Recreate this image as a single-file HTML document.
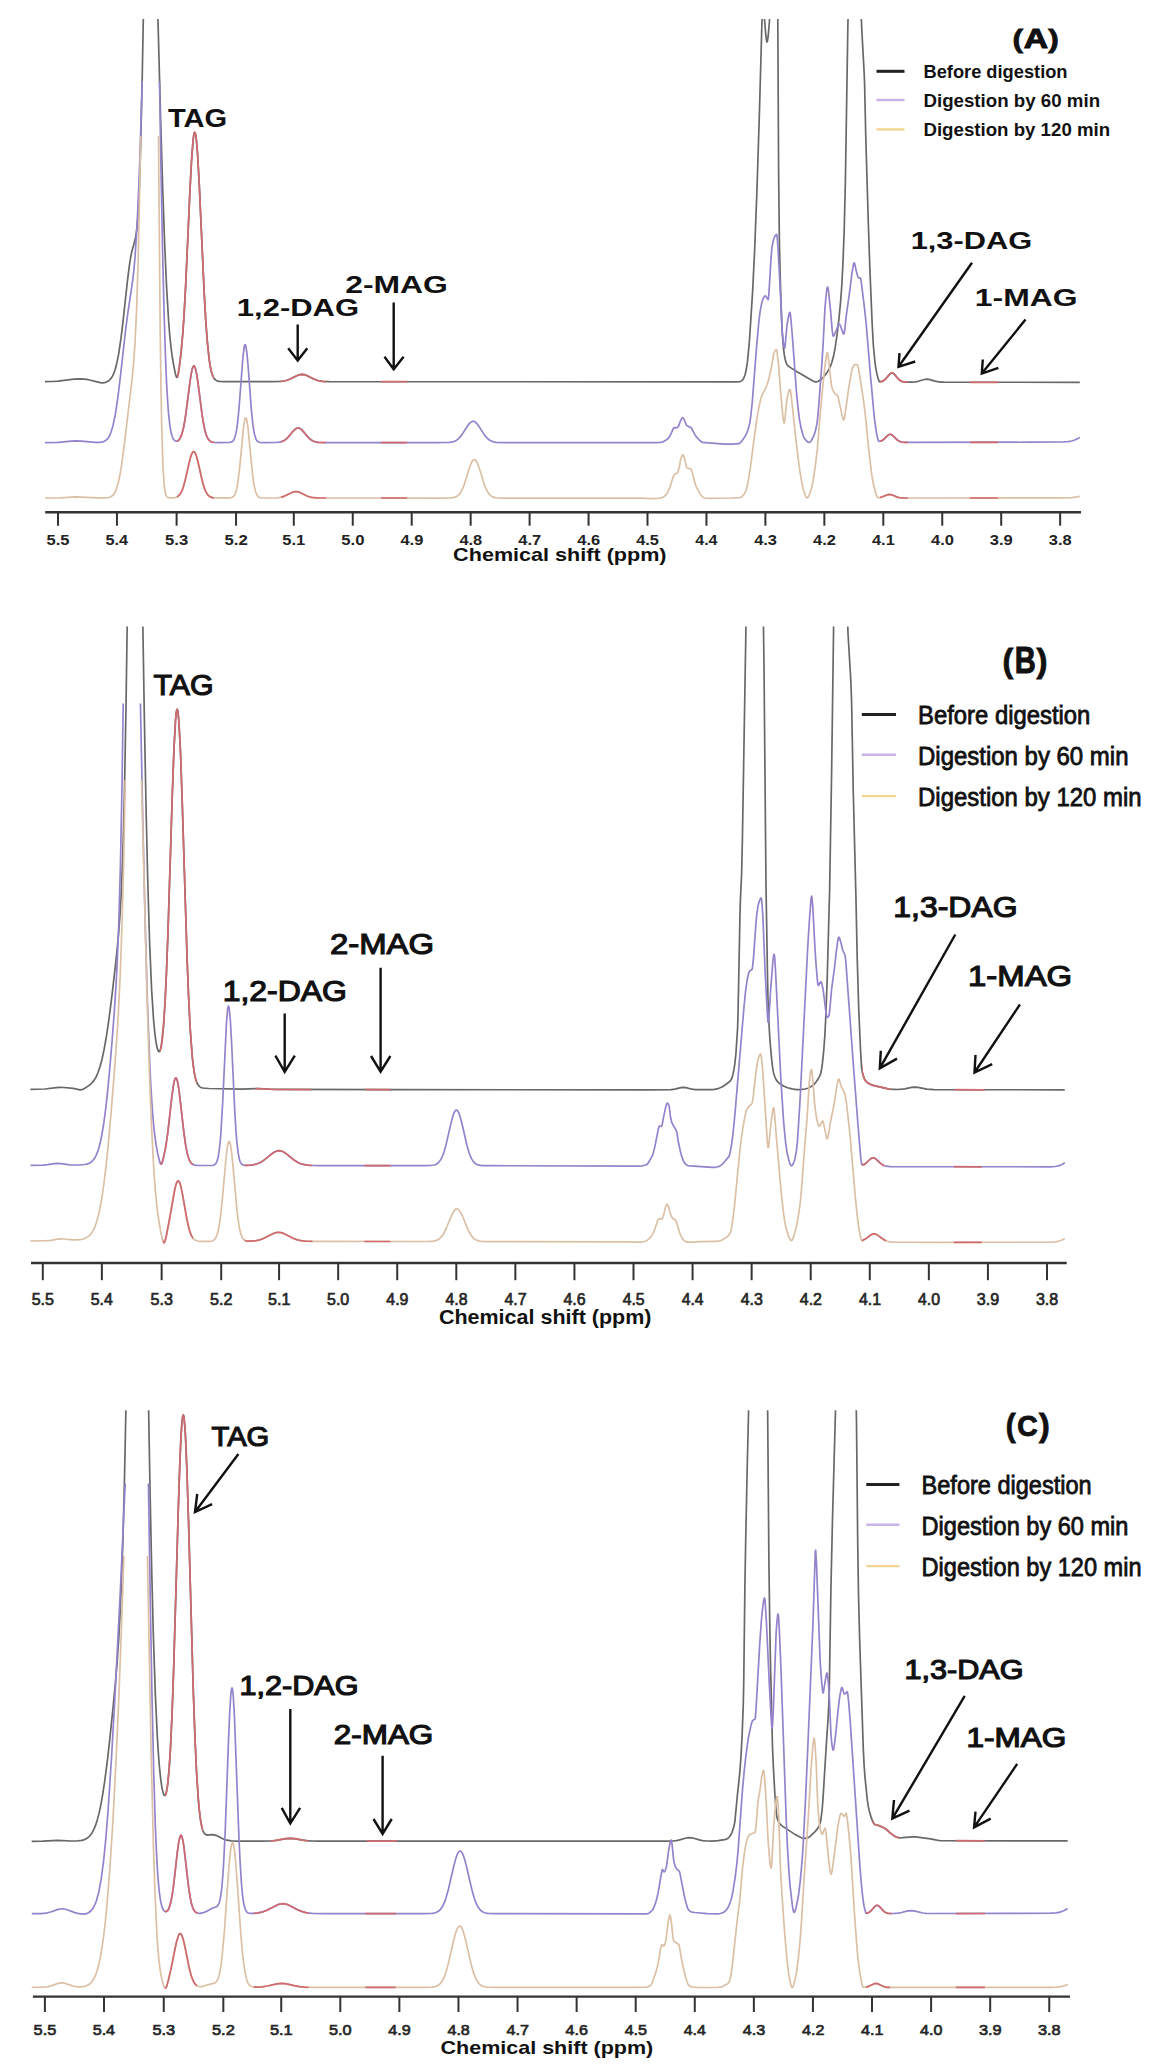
<!DOCTYPE html>
<html><head><meta charset="utf-8"><style>
html,body{margin:0;padding:0;background:#fff;}
body{width:1153px;height:2072px;overflow:hidden;font-family:"Liberation Sans",sans-serif;}
svg{display:block;}
</style></head><body><svg width="1153" height="2072" viewBox="0 0 1153 2072" font-family="'Liberation Sans', sans-serif"><rect width="1153" height="2072" fill="#fff"/><clipPath id="c1"><rect x="40" y="19" width="1044.8" height="2053"/></clipPath><path d="M45 381.7L52.6 381.5L58.2 381.2L73.8 379.1L79.8 378.8L84.2 379.1L88.6 379.7L100.2 382.6L102.6 382.8L104.6 382.6L106.6 382L108.2 381.1L109.8 379.8L111.4 377.9L112.6 375.9L113.8 373.3L115 370L116.2 365.8L118.6 354.3L121 338.2L123 321.6L127.4 281.2L129.4 265.4L130.6 257.7L131.8 251.7L134.6 241.6L135.8 236.1L137 227.1L137.8 217.6L139.4 186.2L140.6 148.9L142.2 79.2L143.8 -8.5L144.2 -11L157 -11L157.4 -1.4L160.6 118.5L162.6 185.8L164.6 242.6L166.6 287.4L168.6 320.7L169.8 335.7L171 347.5L172.2 356.5L173.8 365.9L175.4 373.9L176.2 376.6L176.6 377.3L177 377.4L177.4 376.9L177.8 375.7L178.6 371.7L179.4 366.3L181.4 349.3L183 330.7L184.2 312.6L185.8 282.9L189.8 193.9L191.4 162.7L193 141L193.8 134.9L194.2 133.2L194.6 132.4L195 132.5L195.4 133.6L196.2 138.3L197 146.5L197.8 157.8L199.4 187.6L204.2 293.1L205.8 321.1L207.4 342.7L209.4 361L210.2 366L211.4 371.7L212.6 375.5L213.8 378L215.4 379.9L217 380.9L219.4 381.5L223.8 381.7L271.4 381.7L280.2 381.5L283.8 381L287 380.2L290.2 379L297.8 375.3L300.2 374.6L302.2 374.4L304.2 374.6L306.2 375.2L313.8 379L317.8 380.5L322.6 381.3L329 381.7L735 381.8L740.2 381.6L741.4 381L743.4 378.9L745 375L746.2 369.8L747.4 362.1L749.4 341.3L752.6 291.9L754.6 251.1L757 188.8L759.4 113.3L761.8 27.1L763 -2.6L763.4 -4.6L764.6 20.3L765.8 35.1L766.6 41.1L767 42L767.4 41.3L768.2 36L769.4 21.8L769.8 15.2L770.6 -11L777 -11L777.4 -10.7L777.8 19L778.6 170.5L779.4 242.6L780.2 276.4L781.4 314.2L782.2 331.5L783.4 347.3L784.2 354.2L785.4 360.3L786.6 364.1L787.8 365.7L789.4 366.9L796.6 371.5L813 381L814.6 381.7L815.8 381.9L816.6 381.8L817.8 381.5L819.4 380.5L822.6 378L825.4 374.8L827.4 371.9L829 369.2L830.6 365.8L831.8 362.5L833.4 356.8L835 348.6L837 335L839 318.4L840.6 301.5L841.8 285.3L843 262L844.2 229.7L845.4 181.1L847.8 29.5L848.6 -9.5L849 -11L860.2 -11L861.8 30L864.2 73.6L864.6 84.2L865.8 137.7L868.2 219.3L869.8 267.1L872.2 324.7L873.4 345.9L875 362.4L875.8 368.2L876.6 372.4L877.8 377.5L879 381.1L879.4 381.6L880.2 381.7L881.8 381.5L883.4 380.8L885.8 378.8L889.8 374.1L891 373.2L892.2 373L893 373.2L894.2 374.1L898.2 378.8L900.2 380.6L902.6 381.7L905.8 382.2L911.4 382.2L915.4 381.8L918.2 381.3L924.2 379.5L927 379.2L929.8 379.6L935 381.1L937.8 381.7L940.6 382.1L944.2 382.2L1079.8 382.3" fill="none" stroke="#686868" stroke-width="1.7" stroke-linejoin="round" clip-path="url(#c1)"/><clipPath id="c2"><rect x="177" y="19" width="37" height="2053"/><rect x="281" y="19" width="45" height="2053"/><rect x="381" y="19" width="26" height="2053"/><rect x="880" y="19" width="28" height="2053"/><rect x="970" y="19" width="28" height="2053"/></clipPath><path d="M175.4 373.9L176.2 376.6L176.6 377.3L177 377.4L177.4 376.9L178.2 373.9L179.4 366.3L180.6 356.7L182.6 335.9L183.8 319L185.4 290.9L189.8 193.9L191.4 162.7L193 141L193.8 134.9L194.2 133.2L194.6 132.4L195 132.5L195.4 133.6L196.2 138.3L197 146.5L197.8 157.8L199.4 187.6L204.2 293.1L205.8 321.1L207.4 342.7L209 358L209.8 363.6L211 370L211.8 373.1L213 376.4L214.2 378.6L215.8 380.2M279.4 381.5L283.4 381.1L287 380.2L290.2 379L297.8 375.3L300.2 374.6L302.2 374.4L304.2 374.6L306.2 375.2L313.8 379L317.8 380.5L322.2 381.3L327.8 381.6M379.4 381.7L409 381.7M878.2 379L879 381.1L879.4 381.6L881 381.7L882.6 381.2L883.8 380.6L885.4 379.2L889 374.9L890.2 373.7L891.4 373.1L892.2 373L893 373.2L894.2 374.1L898.6 379.2L901 381.1L902.6 381.7L904.2 382L909.8 382.2M968.2 382.3L999.8 382.3" fill="none" stroke="#cf6a6e" stroke-width="1.7" stroke-linejoin="round" clip-path="url(#c2)"/><clipPath id="c3"><rect x="40" y="81" width="1044.8" height="1991"/></clipPath><path d="M45 442.6L58.2 442.3L71.4 441.1L75.8 440.9L81 441.1L95.4 442.3L99.4 442.3L102.6 441.9L104.2 441.3L105.8 440.4L107.4 438.9L108.6 437.3L109.8 435.2L111 432.3L113 425.7L115.4 414L117.8 397.9L119.8 381.6L125.8 328.3L127.8 313.3L132.6 281.1L133.8 270.7L135 257.4L137 226.7L139 182L140.6 135.3L143 51L159 51L161 169.8L162.6 252L164.2 317.4L165.8 365.3L166.6 383.3L167.8 403.8L168.6 413.9L169.8 424.9L171 432L172.2 436.5L173 438.4L173.8 439.7L174.6 440.5L175.4 441L176.6 441.2L177.8 440.8L179 439.8L179.8 438.8L181.4 435.4L183 430L184.2 424.3L185.8 414.3L189.8 383.2L191 375.1L191.8 370.9L192.6 367.8L193.4 366.2L193.8 365.9L194.2 365.9L195 367.2L195.8 369.9L196.6 373.8L197.8 381.5L201.4 409.7L203 420.6L205 430.7L206.2 434.8L207.4 437.7L208.6 439.7L210.2 441.2L211.8 442L213.8 442.4L218.6 442.6L229.4 442.5L231.8 441.9L232.6 441.4L233.4 440.5L234.6 438.3L235.4 435.7L236.6 429.9L237.4 424.3L239 408.5L243 356.3L244.2 346.9L244.6 345.3L245 344.6L245.4 344.8L245.8 345.8L247 353.8L248.2 367.4L251.4 410.2L252.6 422.2L253.4 428.3L254.6 434.7L255.8 438.6L256.6 440.2L257.4 441.2L258.6 442L259.8 442.4L263.4 442.6L275.8 442.5L279.4 442.2L282.2 441.4L284.6 440.2L287 438.3L289 436.2L293 431.3L295 429.3L296.6 428.3L298.2 428L299.8 428.4L301.8 429.9L307.8 436.9L311 439.9L312.6 440.8L314.2 441.5L316.2 442.1L318.6 442.4L327 442.6L437.4 442.6L445.8 442.5L449.8 442.3L452.6 441.9L454.6 441.2L456.6 440.2L458.6 438.6L460.2 436.9L461.8 434.9L467 426.7L469 423.9L471 422L472.2 421.4L473 421.2L473.8 421.3L475 421.8L477 423.7L479 426.4L484.2 434.6L486.2 437.2L487.8 438.8L489.4 440L491.4 441.1L493.4 441.8L496.2 442.3L505.8 442.6L657 442.6L660.6 442.3L663 441.8L666.2 440L668.2 438.4L669.8 436.4L673.4 428.4L673.8 427.8L674.2 427.7L676.6 427.9L677.8 427L678.6 425.9L680.2 421.7L681.4 419.2L682.2 417.9L682.6 417.6L683 417.7L683.8 418.9L685 421.5L686.2 424.8L686.6 425.4L687.4 426L690.6 427.4L691.4 428L694.6 434.1L696.2 436.6L698.6 439.3L701 441.5L702.2 442.3L724.6 444.2L732.2 444.2L738.6 443.7L740.2 442.7L741.8 441.1L743.8 438.3L745.8 435.1L747.8 430.5L749.8 423.1L751 414.4L752.2 402.9L756.6 346.6L758.6 324.2L759.8 313.6L761 306.6L762.2 301.3L763 299L764.2 296.7L765 295.8L765.4 295.8L766.2 296.8L767.4 298.8L768.2 299.5L768.6 297.4L769 292L771 258.9L771.8 248.6L772.6 243.7L773.8 238.7L774.2 237.6L775.4 235.5L776.2 234.6L776.6 234.4L777 235.5L777.4 239.6L778.2 251L781 305L782.2 332.1L783.4 343.5L784.2 347.6L784.6 348.2L785 346.8L787 325L789 314L789.4 312.9L789.8 312.3L790.2 313L791 319.8L792.6 339.3L796.6 393.7L798.2 409.4L799.4 419.1L801 427.8L803 435.3L803.8 437.2L805 439L806.6 441L807.8 442L808.6 442.4L809.4 442.5L810.2 442.1L811.4 440.5L813.4 436.7L814.6 433.6L815.8 429.2L817 423.3L817.4 420.3L818.6 407.2L821.8 365.1L823 346.3L825 307.4L826.2 294.5L827 288.4L827.4 287L827.8 287L828.6 291.6L830.6 311.1L832.2 330.2L833 335.7L833.4 336.2L834.2 335.2L838.2 325.5L839 324.3L839.4 324.2L839.8 324.5L840.6 326.2L843 333.2L843.4 333.8L843.8 334L844.2 333.2L844.6 331L846.2 316.4L849.8 290.5L851.8 274.2L853.4 264.9L853.8 263.4L854.2 262.9L854.6 263.4L855 264.9L856.2 270.9L857.8 276.4L858.6 277.8L860.2 277.8L860.6 278.4L861.4 282.8L864.6 309L866.2 324.2L870.6 376.7L874.2 416.4L875 423L876.6 433.3L877.8 439.2L878.6 441.1L879 441.3L880.2 441.2L882.2 440.5L883.8 439.3L887.8 435.4L889 434.6L890.2 434.3L891.4 434.6L892.6 435.4L897 439.7L899 441.1L901.8 442L905.8 442.4L1032.6 442.2L1061.8 442L1067.8 441.7L1071.8 441L1075.4 439.8L1079.8 437.6" fill="none" stroke="#9483cc" stroke-width="1.7" stroke-linejoin="round" clip-path="url(#c3)"/><clipPath id="c4"><rect x="177" y="81" width="37" height="1991"/><rect x="281" y="81" width="45" height="1991"/><rect x="381" y="81" width="26" height="1991"/><rect x="880" y="81" width="28" height="1991"/><rect x="970" y="81" width="28" height="1991"/></clipPath><path d="M175.4 441L176.6 441.2L177.8 440.8L179 439.8L179.8 438.8L181.4 435.4L183 430L184.2 424.3L185.8 414.3L189.8 383.2L191 375.1L191.8 370.9L192.6 367.8L193.4 366.2L193.8 365.9L194.2 365.9L195 367.2L195.8 369.9L196.6 373.8L198.2 384.5L202.2 415.4L203.8 425.1L205.4 432.2L206.2 434.8L207.4 437.7L208.2 439.1L209.4 440.6L210.6 441.5L211.8 442L213.4 442.4L215.8 442.5M279.4 442.2L282.6 441.3L285.4 439.7L288.2 437.1L293 431.3L294.6 429.6L296.6 428.3L298.2 428L299.8 428.4L301.4 429.5L303 431.1L308.6 437.8L310.6 439.6L312.6 440.8L315 441.8L317.8 442.3L321.4 442.5L327.8 442.6M379.4 442.6L409 442.6M878.2 440.4L878.6 441.1L879 441.3L880.6 441.2L881.8 440.7L883.8 439.3L887.8 435.4L889 434.6L890.2 434.3L891 434.5L892.2 435.1L897 439.7L898.2 440.6L899.8 441.5L901.4 442L903.4 442.3L909.8 442.4M968.2 442.3L999.8 442.3" fill="none" stroke="#cf6a6e" stroke-width="1.7" stroke-linejoin="round" clip-path="url(#c4)"/><clipPath id="c5"><rect x="40" y="136" width="1044.8" height="1936"/></clipPath><path d="M45 498L59.4 497.8L75.8 496.9L97 497.9L104.6 497.9L108.6 497.5L110.2 497L111.8 496.1L113 495.1L114.2 493.6L116.2 489.6L118.2 483.1L119.8 475.8L121.4 466.4L124.6 442.2L132.2 377.9L133.8 360.8L135 343.3L136.6 309.6L138.2 258.3L139.8 184.1L141 111.2L141.4 106L158.2 106L160.2 330.2L161 389L161.8 430.1L163 467.2L164.2 485.3L165 491.3L165.8 494.6L166.2 495.7L167 496.9L168.2 497.7L169.8 497.9L172.6 497.9L175 497.6L176.6 497.1L177.8 496.4L179 495.4L181 492.6L183 488L184.6 482.6L189.4 461.6L190.6 457.1L192.2 452.9L193 451.8L193.8 451.6L194.6 452.1L195.4 453.4L197 458L201.8 479L203.8 486.4L205.8 491.6L207.8 494.9L209 496.1L210.6 497L212.2 497.6L214.6 497.9L229.4 497.9L231.8 497.5L233.4 496.6L234.6 495L235.8 492.1L237 487.3L237.8 482.8L239.8 466.4L243.4 428.7L244.6 420.5L245.4 418L245.8 417.8L246.2 418.2L246.6 419.2L247.8 426.1L252.2 471.1L253.4 480.7L254.2 485.7L255.4 491L256.2 493.4L257 495.1L257.8 496.2L258.6 497L259.8 497.6L261 497.8L264.2 498L273.4 498L277.4 497.8L280.2 497.4L284.6 496.1L292.6 492.3L294.2 491.8L295.8 491.6L297.4 491.7L299.4 492.3L306.2 495.6L309.4 496.8L312.6 497.5L317 497.9L444.6 498.1L450.2 498L453.4 497.6L455.8 496.9L457.8 495.7L459.8 493.6L461.4 491.1L463 487.7L464.6 483.4L469 469.2L470.6 464.7L471.8 462L472.6 460.8L473.4 460L474.2 459.7L475 459.9L475.8 460.6L476.6 461.7L477.8 464.3L479.4 468.7L484.2 484.1L485.8 488.2L487.4 491.5L489 493.9L490.6 495.6L492.6 496.9L495 497.6L498.2 498L503 498.1L640.2 498.2L653.4 498.6L657.4 498.5L661.4 497.8L663.4 497.1L665.8 495L667.4 492.9L669.8 487.7L673.4 476.1L674.6 474.3L675.4 473.8L677 473.1L677.8 472.2L679.4 466.7L680.6 459.7L681 458.4L682.2 455.5L682.6 455L683 454.9L683.8 456.2L684.6 458.5L686.2 466.4L686.6 467.2L687.4 468L688.2 468.4L690.6 468.9L691 469.2L691.8 471.1L693 475.3L694.6 482.1L695.8 485.7L697.4 489L699.8 493.4L701.8 496L703 497.3L703.8 497.6L705.8 498L709.8 498.3L730.2 498L740.2 497.6L741.8 496.7L744.2 494.1L745.8 490.8L747 487.2L748.2 481.2L750.6 466L753.8 441L757 417.9L759.4 404.9L760.6 399.6L761.8 395.5L762.6 393.7L765.4 388.9L767 384.8L768.2 381L769.4 376.5L771 369.1L773.8 353.6L775 351L775.8 350L776.2 349.7L776.6 349.9L777 351.5L778.6 364.9L780.6 391.2L782.2 409.3L783 417.3L783.8 422.3L784.2 423L784.6 421.9L785 419L786.2 405.7L787 399L788.2 393.4L789 390.6L789.4 389.7L789.8 389.3L790.2 389.7L790.6 391.4L791.4 397.3L795.8 438.6L798.2 459L799.8 470.7L801.8 482.6L803 488.2L805.4 495.6L806.2 497.2L807 497.9L807.8 497.5L808.6 496.3L809.8 493.5L811.4 488.7L813 481.5L814.6 471.5L817.4 448.8L820.2 413.4L823.4 379.8L826.2 356.6L827 353L827.4 352.8L827.8 354L828.2 356.6L831 382L831.8 387.1L832.6 389.5L833.8 392L835 393.6L837.4 395.5L838.2 397.1L842.2 415.9L843 418.8L843.4 419.7L843.8 420L844.2 419.3L844.6 417.5L848.6 388.6L851.8 370.5L852.6 367.8L853.8 365.5L854.6 364.5L855 364.4L857 364.6L857.4 364.7L857.8 365.6L858.6 369.1L861.8 388.8L864.2 405.6L865.8 419.5L868.6 448.4L871.8 475.1L873 482L875.4 492.1L876.6 495.7L877.4 497.2L877.8 497.6L879 497.7L881.4 497.2L887 494.9L889.4 494.4L891.8 494.8L896.2 496.7L898.6 497.5L901 497.8L904.6 498L1062.2 497.9L1071.8 497.6L1079.8 496.4" fill="none" stroke="#dcc0a6" stroke-width="1.7" stroke-linejoin="round" clip-path="url(#c5)"/><clipPath id="c6"><rect x="177" y="136" width="37" height="1936"/><rect x="281" y="136" width="45" height="1936"/><rect x="381" y="136" width="26" height="1936"/><rect x="880" y="136" width="28" height="1936"/><rect x="970" y="136" width="28" height="1936"/></clipPath><path d="M175.4 497.5L177.4 496.7L179.4 495L181 492.6L182.2 490.1L183.4 486.8L185 481.1L189 463.3L190.6 457.1L192.2 452.9L193 451.8L193.8 451.6L194.2 451.7L195 452.7L195.8 454.3L196.6 456.7L198.2 462.8L202.6 482.2L204.2 487.6L205.8 491.6L207.8 494.9L209.8 496.6L212.2 497.6L215.8 497.9M279.4 497.5L282.2 496.9L284.6 496.1L292.6 492.3L294.6 491.7L296.2 491.6L297.8 491.8L299.4 492.3L307 496L309 496.7L311.4 497.3L317 497.9L327.8 498M379.4 498L409 498M878.2 497.7L881.4 497.2L887.4 494.8L889.8 494.4L891.8 494.8L896.6 496.9L899.4 497.6L903 497.9L909.8 498M968.2 498L999.8 498" fill="none" stroke="#cf6a6e" stroke-width="1.7" stroke-linejoin="round" clip-path="url(#c6)"/><line x1="45.2" y1="512.2" x2="1081" y2="512.2" stroke="#333" stroke-width="2.4" stroke-linecap="butt"/><line x1="58" y1="512.2" x2="58" y2="525.7" stroke="#333" stroke-width="2.0" stroke-linecap="butt"/><text x="46.49" y="545.1" font-size="15.12" font-weight="bold" fill="#222" textLength="22.98" lengthAdjust="spacingAndGlyphs">5.5</text><line x1="116.95" y1="512.2" x2="116.95" y2="525.7" stroke="#333" stroke-width="2.0" stroke-linecap="butt"/><text x="105.45" y="545.1" font-size="15.12" font-weight="bold" fill="#222" textLength="22.59" lengthAdjust="spacingAndGlyphs">5.4</text><line x1="176.6" y1="512.2" x2="176.6" y2="525.7" stroke="#333" stroke-width="2.0" stroke-linecap="butt"/><text x="165.08" y="545.1" font-size="15.12" font-weight="bold" fill="#222" textLength="23.12" lengthAdjust="spacingAndGlyphs">5.3</text><line x1="236.05" y1="512.2" x2="236.05" y2="525.7" stroke="#333" stroke-width="2.0" stroke-linecap="butt"/><text x="224.53" y="545.1" font-size="15.12" font-weight="bold" fill="#222" textLength="23.19" lengthAdjust="spacingAndGlyphs">5.2</text><line x1="293.8" y1="512.2" x2="293.8" y2="525.7" stroke="#333" stroke-width="2.0" stroke-linecap="butt"/><text x="282.29" y="545.1" font-size="15.12" font-weight="bold" fill="#222" textLength="22.98" lengthAdjust="spacingAndGlyphs">5.1</text><line x1="352.75" y1="512.2" x2="352.75" y2="525.7" stroke="#333" stroke-width="2.0" stroke-linecap="butt"/><text x="341.23" y="545.1" font-size="15.12" font-weight="bold" fill="#222" textLength="23.2" lengthAdjust="spacingAndGlyphs">5.0</text><line x1="411.7" y1="512.2" x2="411.7" y2="525.7" stroke="#333" stroke-width="2.0" stroke-linecap="butt"/><text x="400.45" y="545.1" font-size="15.12" font-weight="bold" fill="#222" textLength="22.86" lengthAdjust="spacingAndGlyphs">4.9</text><line x1="470.65" y1="512.2" x2="470.65" y2="525.7" stroke="#333" stroke-width="2.0" stroke-linecap="butt"/><text x="459.4" y="545.1" font-size="15.12" font-weight="bold" fill="#222" textLength="22.76" lengthAdjust="spacingAndGlyphs">4.8</text><line x1="529.6" y1="512.2" x2="529.6" y2="525.7" stroke="#333" stroke-width="2.0" stroke-linecap="butt"/><text x="518.35" y="545.1" font-size="15.12" font-weight="bold" fill="#222" textLength="22.98" lengthAdjust="spacingAndGlyphs">4.7</text><line x1="588.55" y1="512.2" x2="588.55" y2="525.7" stroke="#333" stroke-width="2.0" stroke-linecap="butt"/><text x="577.3" y="545.1" font-size="15.12" font-weight="bold" fill="#222" textLength="22.84" lengthAdjust="spacingAndGlyphs">4.6</text><line x1="647.5" y1="512.2" x2="647.5" y2="525.7" stroke="#333" stroke-width="2.0" stroke-linecap="butt"/><text x="636.26" y="545.1" font-size="15.12" font-weight="bold" fill="#222" textLength="22.7" lengthAdjust="spacingAndGlyphs">4.5</text><line x1="706.45" y1="512.2" x2="706.45" y2="525.7" stroke="#333" stroke-width="2.0" stroke-linecap="butt"/><text x="695.21" y="545.1" font-size="15.12" font-weight="bold" fill="#222" textLength="22.32" lengthAdjust="spacingAndGlyphs">4.4</text><line x1="765.4" y1="512.2" x2="765.4" y2="525.7" stroke="#333" stroke-width="2.0" stroke-linecap="butt"/><text x="754.15" y="545.1" font-size="15.12" font-weight="bold" fill="#222" textLength="22.84" lengthAdjust="spacingAndGlyphs">4.3</text><line x1="824.35" y1="512.2" x2="824.35" y2="525.7" stroke="#333" stroke-width="2.0" stroke-linecap="butt"/><text x="813.1" y="545.1" font-size="15.12" font-weight="bold" fill="#222" textLength="22.91" lengthAdjust="spacingAndGlyphs">4.2</text><line x1="883.3" y1="512.2" x2="883.3" y2="525.7" stroke="#333" stroke-width="2.0" stroke-linecap="butt"/><text x="872.06" y="545.1" font-size="15.12" font-weight="bold" fill="#222" textLength="22.7" lengthAdjust="spacingAndGlyphs">4.1</text><line x1="942.25" y1="512.2" x2="942.25" y2="525.7" stroke="#333" stroke-width="2.0" stroke-linecap="butt"/><text x="931" y="545.1" font-size="15.12" font-weight="bold" fill="#222" textLength="22.93" lengthAdjust="spacingAndGlyphs">4.0</text><line x1="1001.2" y1="512.2" x2="1001.2" y2="525.7" stroke="#333" stroke-width="2.0" stroke-linecap="butt"/><text x="989.82" y="545.1" font-size="15.12" font-weight="bold" fill="#222" textLength="22.99" lengthAdjust="spacingAndGlyphs">3.9</text><line x1="1060.15" y1="512.2" x2="1060.15" y2="525.7" stroke="#333" stroke-width="2.0" stroke-linecap="butt"/><text x="1048.77" y="545.1" font-size="15.12" font-weight="bold" fill="#222" textLength="22.89" lengthAdjust="spacingAndGlyphs">3.8</text><text x="453.12" y="561" font-size="18.6" font-weight="bold" fill="#111" textLength="213.46" lengthAdjust="spacingAndGlyphs">Chemical shift (ppm)</text><text x="167.98" y="127.2" font-size="25.58" font-weight="bold" fill="#111" textLength="59.21" lengthAdjust="spacingAndGlyphs">TAG</text><text x="236.85" y="316.2" font-size="24.56" font-weight="bold" fill="#111" textLength="122.25" lengthAdjust="spacingAndGlyphs">1,2-DAG</text><text x="345.18" y="292.8" font-size="24.71" font-weight="bold" fill="#111" textLength="102.7" lengthAdjust="spacingAndGlyphs">2-MAG</text><text x="910.66" y="249.4" font-size="24.71" font-weight="bold" fill="#111" textLength="121.53" lengthAdjust="spacingAndGlyphs">1,3-DAG</text><text x="974.89" y="305.5" font-size="24.56" font-weight="bold" fill="#111" textLength="102.69" lengthAdjust="spacingAndGlyphs">1-MAG</text><text x="1012.62" y="47.85" font-size="26.69" font-weight="bold" fill="#111" textLength="10.51" lengthAdjust="spacingAndGlyphs" stroke="#111" stroke-width="0.8">(</text><text x="1048.17" y="47.85" font-size="26.69" font-weight="bold" fill="#111" textLength="10.51" lengthAdjust="spacingAndGlyphs" stroke="#111" stroke-width="0.8">)</text><text x="1023.66" y="48.2" font-size="27.76" font-weight="bold" fill="#111" textLength="24.32" lengthAdjust="spacingAndGlyphs" stroke="#111" stroke-width="1.0">A</text><path d="M297.7 324.4 L297.7 360.6 M288.2 348.2 L297.7 360.6 L307.3 348.2" fill="none" stroke="#111" stroke-width="2.4" stroke-linecap="butt" stroke-linejoin="miter"/><path d="M393.7 302.4 L393.7 369.2 M384.5 356.8 L393.7 369.2 L403.6 356.8" fill="none" stroke="#111" stroke-width="2.4" stroke-linecap="butt" stroke-linejoin="miter"/><path d="M972 262.7 L898.5 366.8 M899.5 353.2 L898.5 366.8 L915.2 361.5" fill="none" stroke="#111" stroke-width="2.4" stroke-linecap="butt" stroke-linejoin="miter"/><path d="M1025.5 319.5 L981.8 373.6 M982.8 359.5 L981.8 373.6 L998.4 367.8" fill="none" stroke="#111" stroke-width="2.4" stroke-linecap="butt" stroke-linejoin="miter"/><line x1="876.5" y1="71.3" x2="904.5" y2="71.3" stroke="#222" stroke-width="3.0" stroke-linecap="butt"/><line x1="876.5" y1="100" x2="904.5" y2="100" stroke="#c8b2e8" stroke-width="2.4" stroke-linecap="butt"/><line x1="876.5" y1="129.4" x2="904.5" y2="129.4" stroke="#f0d690" stroke-width="2.4" stroke-linecap="butt"/><text x="923.48" y="78.1" font-size="18.9" font-weight="bold" fill="#111" textLength="144.05" lengthAdjust="spacingAndGlyphs">Before digestion</text><text x="923.45" y="106.9" font-size="18.9" font-weight="bold" fill="#111" textLength="176.62" lengthAdjust="spacingAndGlyphs">Digestion by 60 min</text><text x="923.45" y="136" font-size="18.6" font-weight="bold" fill="#111" textLength="186.7" lengthAdjust="spacingAndGlyphs">Digestion by 120 min</text><clipPath id="c7"><rect x="25.4" y="626.5" width="1044.4" height="1445.5"/></clipPath><path d="M30.4 1089.3L44.8 1089L56.4 1087.6L60.4 1087.4L64 1087.5L73.2 1088.4L80 1089.8L81.6 1089.7L83.6 1089L88.8 1085.6L91.6 1083.3L94 1080.4L96 1077.1L98 1072.6L100 1066.7L102 1059.2L104 1050L106.4 1036.4L109.2 1017.3L112 995.1L115.2 967.4L117.2 948.5L118.8 931.1L120 915L121.2 894.2L122.8 854.5L124.4 794.2L126 707.4L127.6 596.5L142 596.5L142.4 598L144.4 720.3L146 805.1L147.6 875.4L149.6 942.6L151.6 989.5L153.6 1020.4L154.8 1033L156 1042.1L157.2 1048.1L158.4 1051.2L158.8 1051.6L159.2 1051.6L159.6 1051.3L160.4 1049.6L161.2 1046.3L162 1041.2L163.6 1024.9L165.2 999.5L166.4 974L168 931.7L172.4 791.5L174 748.2L175.6 719.3L176.4 711.7L176.8 709.9L177.2 709.3L177.6 710.1L178 712.2L178.8 720.2L180.4 750L182 794.4L187.2 961.6L188.8 1001.4L190.4 1031.9L192.4 1057.9L193.2 1065.1L194.4 1073.2L195.6 1078.8L196.8 1082.4L198 1084.8L199.6 1086.6L201.2 1087.6L202.8 1088L208.8 1088.5L241.2 1089.1L257.2 1088.5L268.8 1089.2L277.2 1089.4L390.8 1089.7L645.6 1089.8L671.2 1089.6L674.8 1089.1L680.8 1087.6L683.2 1087.3L686 1087.6L692 1089.2L695.6 1089.6L706.4 1089.7L712.4 1089.6L714.4 1089.3L718.8 1088.3L722 1087L724.4 1085.5L728.8 1082.3L730 1081.2L731.2 1079.6L732 1077.7L732.8 1074.9L734 1069.2L734.8 1064.2L736 1052.8L737.6 1027.9L738 1015.2L740 913.6L740.4 900L741.6 874L742.4 839.8L746.4 600.1L746.8 596.5L762.8 596.5L763.2 609.5L764 665.1L766 885.8L767.6 981L768 1000L768.8 1020.9L770 1040.7L771.6 1059L772.8 1068.8L773.6 1072.9L774.4 1075.6L775.2 1077.8L776.4 1080.1L778 1082.1L780 1083.8L784 1086.2L787.6 1087.8L792 1088.9L796.4 1089.7L800.4 1089.7L804.8 1089L808 1088.2L810.8 1086.8L814 1084.5L816.8 1081L819.6 1076.4L820.4 1074.4L821.2 1071.6L822.4 1063.4L823.6 1052.2L824.8 1036L825.6 1021L827.2 979.1L829.6 890.8L831.6 773.4L833.6 626.4L834 602L834.4 596.5L846.8 596.5L848 633.2L850.8 680.1L851.6 701.6L853.2 789L856 900L857.2 957.8L858.8 1010.7L860.4 1047.8L861.6 1067.9L862.4 1072.7L863.2 1075.6L864.4 1078.8L865.6 1080.9L867.2 1082.5L869.2 1083.8L871.6 1084.8L875.2 1085.9L887.2 1088.6L890 1089.1L893.6 1089.3L898 1089.5L901.6 1089.2L904.8 1088.8L911.6 1087.3L914.8 1087.1L918 1087.4L926.8 1089.2L934 1089.6L1064.8 1089.8" fill="none" stroke="#686868" stroke-width="1.7" stroke-linejoin="round" clip-path="url(#c7)"/><clipPath id="c8"><rect x="160" y="626.5" width="37" height="1445.5"/><rect x="255.5" y="626.5" width="55.5" height="1445.5"/><rect x="365.7" y="626.5" width="24.7" height="1445.5"/><rect x="862" y="626.5" width="29" height="1445.5"/><rect x="954.7" y="626.5" width="30.2" height="1445.5"/></clipPath><path d="M158.4 1051.2L158.8 1051.6L159.2 1051.6L159.6 1051.3L160.4 1049.6L161.2 1046.3L162 1041.2L163.6 1024.9L165.2 999.5L166.4 974L168 931.7L172.4 791.5L174 748.2L175.6 719.3L176.4 711.7L176.8 709.9L177.2 709.3L177.6 710.1L178 712.2L178.8 720.2L180.4 750L182 794.4L186.8 950.3L188.4 992.3L190 1025.1L191.6 1048.9L192.4 1057.9L193.6 1068.1L194.8 1075.3L196 1080.2L197.2 1083.4L198.8 1085.9M253.6 1088.6L258.8 1088.6L267.6 1089.2L273.2 1089.4L312.8 1089.6M364 1089.6L392.4 1089.7M860.4 1047.8L861.2 1062.8L862 1071L863.6 1076.9L864.4 1078.8L865.6 1080.9L866.8 1082.2L868.4 1083.3L870.4 1084.4L872.8 1085.3L887.2 1088.6L890 1089.1L892.8 1089.3M952.8 1089.7L986.8 1089.8" fill="none" stroke="#cf6a6e" stroke-width="1.7" stroke-linejoin="round" clip-path="url(#c8)"/><clipPath id="c9"><rect x="25.4" y="703.5" width="1044.4" height="1368.5"/></clipPath><path d="M30.4 1165.4L43.6 1165.1L47.6 1164.7L54.4 1163.6L57.6 1163.4L60.8 1163.6L70 1164.8L78.8 1165L84.8 1164.5L86.8 1164.1L88.8 1163.4L90.8 1162.3L92.8 1160.6L94.4 1158.5L96 1155.7L97.6 1151.9L98.8 1148.2L100.4 1142L101.6 1136.3L103.6 1124.5L105.6 1109.5L107.6 1091.4L109.6 1070.4L112 1042.1L114.4 1010.1L116 985.2L117.2 962.6L118.8 923.1L120.4 866.6L122 785.9L123.6 677.7L124 673.5L139.6 673.5L140 682.9L142.8 820L145.2 924.1L147.2 995.3L149.6 1060.2L150.8 1084.7L152 1104.5L153.2 1120.2L154.4 1132.4L156 1144.3L157.6 1153L159.6 1161.6L160.4 1163.6L160.8 1164L161.2 1164.1L161.6 1163.7L162.8 1160.4L164 1155.4L165.6 1147.4L168 1131.1L171.6 1099L173.2 1086.9L174 1082.4L174.8 1079.4L175.6 1078L176 1078L176.4 1078.3L177.2 1080.3L178 1083.8L178.8 1088.8L180 1098.1L183.6 1130.4L185.6 1144.9L187.6 1154.8L188.4 1157.5L189.6 1160.6L191.2 1163.1L192.8 1164.4L194.8 1165.1L197.6 1165.4L210 1165.5L213.2 1165.3L214.4 1164.8L215.2 1164.3L216 1163.3L216.8 1161.8L218 1157.8L218.8 1153.4L220 1143.5L220.8 1134.1L222.4 1108L226.4 1024.2L227.6 1009.5L228 1007.1L228.4 1006.1L228.8 1006.4L229.2 1008.1L230.4 1021L231.6 1043L234.8 1111.8L236 1131.4L236.8 1141.4L238 1152.1L239.2 1158.6L240 1161.3L240.8 1163L242 1164.4L243.2 1165.1L246 1165.4L251.2 1165.1L255.2 1164.4L258.4 1163.3L260.8 1162.2L263.6 1160.4L271.2 1154.3L274 1152.3L276.8 1151L279.2 1150.7L281.6 1151.1L284.4 1152.4L286.8 1154.1L294 1160L298 1162.5L300 1163.4L302.4 1164.2L305.2 1164.8L308 1165.2L312.8 1165.5L320 1165.6L424.4 1165.7L430.8 1165.5L434.4 1165L436 1164.4L437.2 1163.7L439.2 1161.9L441.2 1158.9L442.8 1155.3L444.4 1150.7L446 1144.9L450.8 1123.9L452.8 1116.3L454 1112.9L454.8 1111.4L455.6 1110.4L456.4 1110.1L457.2 1110.4L458 1111.3L458.8 1112.9L460 1116.2L462 1123.8L466.8 1144.8L468.4 1150.6L470 1155.3L471.6 1158.9L473.6 1161.9L475.6 1163.8L478 1164.9L481.6 1165.6L488 1165.7L638 1166.1L642 1165.8L645.6 1165L646.8 1164.6L647.2 1164.3L648 1163.2L651.6 1157.1L652.8 1154.6L654.8 1147.1L658.4 1128.7L659.2 1126.3L659.6 1126L661.2 1126.5L661.6 1126.3L662 1125.3L664.8 1111.1L666 1105.9L666.8 1103.4L667.2 1103.1L667.6 1103.3L668.4 1104.3L669.2 1106.3L670.4 1116.5L671.6 1121.8L673.2 1125.5L676 1129.9L676.8 1132.2L678.4 1142.3L680.4 1151.5L681.6 1156.1L683.2 1160.4L684 1162L684.8 1163.2L686 1164.4L687.2 1165.3L688 1165.6L690 1165.9L712.4 1167.4L715.6 1167.3L718.8 1166.5L720.8 1165.4L722.8 1163.8L728.8 1156.6L729.2 1155.9L730 1153.1L731.6 1144.4L732.8 1135.3L734.8 1115.6L744 1006.7L745.6 990.9L747.2 979.5L748.8 972.7L749.6 971L751.6 969.8L752 969.4L752.4 968.3L753.6 956.6L756 922.6L756.8 914.1L758 906.1L758.8 902.6L760.4 898.5L760.8 898L761.2 898L761.6 900L762 904L762.8 915L765.2 973.3L767.2 1011.3L768 1022.3L768.4 1022.5L768.8 1019.6L770.8 987.5L772.8 962.2L773.6 955.5L774 954.2L774.4 955.1L774.8 958.9L775.6 972.5L780.8 1077.9L783.6 1121.9L785.6 1142.4L787.2 1153.6L789.6 1162.8L790.8 1165.3L791.2 1165.7L791.6 1165.7L792.4 1165L793.2 1163.7L794 1162L794.8 1159.5L796.4 1150.8L797.6 1139.7L800 1101.2L807.6 949.7L809.2 923.2L810.4 906.8L811.2 897.6L811.6 896.1L812 897.8L812.8 907.3L815.2 952.3L816 963.9L817.6 982.5L818 985L818.4 985.3L818.8 984.9L820.4 982.1L820.8 981.8L821.2 982L822 984.2L823.2 990L826 1012.7L826.8 1017.1L827.2 1017.5L828 1017L828.8 1015.9L829.2 1014.6L830 1007.4L831.6 989.2L834.4 968.5L836.4 950.7L837.6 941.9L838.4 937.7L838.8 937.1L839.2 937.4L839.6 938.3L841.2 943.7L842.8 950.2L843.6 952.3L844.8 954.4L845.2 955.9L846 963.7L853.2 1062.7L858 1125.2L860.8 1158.4L861.6 1164L862 1164.8L863.6 1164.6L864.8 1164.1L866 1163.2L870.4 1159L872 1158.1L873.2 1157.9L874.4 1158.1L875.6 1158.8L880.8 1163.6L883.2 1165.2L886 1166.2L890.4 1166.6L1050.4 1166.8L1055.2 1166.5L1058.4 1165.9L1061.6 1164.7L1064.8 1162.8" fill="none" stroke="#9483cc" stroke-width="1.7" stroke-linejoin="round" clip-path="url(#c9)"/><clipPath id="c10"><rect x="160.5" y="703.5" width="32.5" height="1368.5"/><rect x="244.7" y="703.5" width="67.7" height="1368.5"/><rect x="364.4" y="703.5" width="26" height="1368.5"/><rect x="862" y="703.5" width="22" height="1368.5"/><rect x="953.7" y="703.5" width="28.1" height="1368.5"/></clipPath><path d="M158.8 1158.5L160 1162.7L160.8 1164L161.2 1164.1L161.6 1163.7L162.4 1161.8L164.4 1153.6L166 1145.1L167.6 1134.2L171.6 1099L173.2 1086.9L174 1082.4L174.8 1079.4L175.6 1078L176 1078L176.4 1078.3L177.2 1080.3L178 1083.8L178.8 1088.8L184 1133.6L185.6 1144.9L186.8 1151.4L188.4 1157.5L190 1161.3L190.8 1162.6L192 1163.8L193.2 1164.6L194.8 1165.1M242.8 1164.9L245.2 1165.4L250.4 1165.2L254.4 1164.5L258 1163.5L260.8 1162.2L263.6 1160.4L271.2 1154.3L274 1152.3L276.8 1151L279.2 1150.7L281.6 1151.1L284.4 1152.4L286.8 1154.1L294.4 1160.3L297.2 1162.1L299.6 1163.3L302.4 1164.2L305.6 1164.9L309.2 1165.3L314.4 1165.5M362.8 1165.6L392.4 1165.6M860.4 1154.2L861.2 1161.8L861.6 1164L862 1164.8L863.6 1164.6L864.8 1164.1L866 1163.2L870.4 1159L872 1158.1L873.2 1157.9L874.4 1158.1L876 1159.1L880 1162.9L882 1164.5L884 1165.6L886 1166.2M952 1166.7L983.6 1166.8" fill="none" stroke="#cf6a6e" stroke-width="1.7" stroke-linejoin="round" clip-path="url(#c10)"/><clipPath id="c11"><rect x="25.4" y="780" width="1044.4" height="1292"/></clipPath><path d="M30.4 1241L46.8 1240.7L50.8 1240.3L57.6 1239.2L60.8 1238.9L64 1239L72 1239.9L77.2 1239.9L82 1239.3L84 1238.8L86 1237.9L88.4 1236.4L90.8 1234.1L92.8 1231.1L94.4 1227.9L96 1223.8L97.6 1218.6L99.2 1212.1L100.4 1206.2L102.4 1194.5L104.4 1180L106.4 1162.8L108.8 1138.7L111.6 1106.6L114.4 1071.4L116.8 1038L118.4 1012.1L120.4 970.8L122.4 911.9L123.6 864.7L125.6 763.3L126 750L140.4 750L140.8 752.7L147.2 1002.2L149.6 1078.2L151.6 1128.2L154 1172.5L155.2 1188.8L156.4 1201.9L158 1215.3L160.4 1230.2L162.4 1239.9L163.2 1242.1L163.6 1242.7L164 1242.7L164.4 1242.4L164.8 1241.6L165.6 1239L166.4 1235.5L170 1216.6L174 1193.5L175.2 1187.7L176 1184.6L176.8 1182.4L177.6 1181.1L178 1180.9L178.4 1180.9L179.2 1181.7L180 1183.5L180.8 1186.1L182.4 1193.7L186 1214.7L188 1224.7L190 1232L191.2 1235.1L192.4 1237.3L194 1239.2L195.6 1240.3L197.6 1241L200.8 1241.3L208.4 1241.3L211.6 1241.1L212.8 1240.7L214 1240L215.6 1238.2L216.8 1235.6L218 1231.6L219.2 1225.7L220 1220.5L222 1202.8L226.4 1154.2L227.2 1147.9L228 1143.6L228.8 1141.5L229.2 1141.3L229.6 1141.7L230.4 1144.4L231.6 1152.4L232.8 1164.1L236.8 1208.7L238 1218.9L239.2 1226.8L240.4 1232.4L242 1237.1L242.8 1238.5L244 1239.9L245.2 1240.6L246.4 1241L248.8 1241.2L252.4 1241.1L256 1240.7L259.2 1240L264 1238.2L273.6 1233.3L276 1232.6L278.4 1232.3L280.8 1232.5L283.6 1233.4L292.8 1238.1L296.8 1239.7L301.2 1240.7L306 1241.2L317.6 1241.4L423.2 1241.5L430 1241.4L433.6 1241.1L436.4 1240.4L438.4 1239.5L440.4 1237.9L442.4 1235.6L444 1233L446 1229L450.8 1217.3L452.8 1213L454.8 1210L456 1209L456.8 1208.8L457.6 1209L458.8 1209.8L460.8 1212.7L462.8 1217L468 1229.6L469.6 1232.8L471.2 1235.4L472.8 1237.4L474.8 1239.2L477.2 1240.4L479.6 1241.1L482.8 1241.4L488.4 1241.6L630 1241.8L637.2 1242.2L640.4 1242.1L644.4 1241.5L646.4 1240.8L649.6 1238.3L651.6 1235.9L652.8 1233.9L654.4 1230.3L657.6 1220.6L658 1219.8L659.2 1218.7L662 1218.9L662.4 1218.4L664 1213.4L665.6 1206.8L666.4 1204.9L666.8 1204.3L667.2 1204.1L668 1205.3L668.8 1207.4L670 1212.8L671.2 1215.9L672 1217.4L672.8 1218.4L674.8 1219.5L675.6 1220.4L676.8 1223.2L680.4 1234.9L682.4 1238.7L684 1240.6L686.4 1241.9L688 1242.2L693.6 1242.2L700.4 1241.7L716 1241.3L718.4 1241.2L720 1240.8L722 1240L724.8 1238.6L727.6 1236.5L729.2 1234.6L730.4 1232.6L731.2 1229.9L732.4 1222.5L734.4 1206.8L740 1149.4L741.6 1136.5L743.2 1125.8L745.2 1114.9L746.4 1110.2L747.2 1108.7L748.8 1106.6L750.8 1104.9L751.6 1104L752.4 1102.2L753.2 1096.8L756 1071.9L757.2 1063.9L758 1059.8L758.8 1057L760 1054.6L760.4 1054.2L760.8 1054.2L761.2 1055.9L761.6 1059.2L762.8 1071.6L767.2 1139.3L768 1147.5L768.4 1147.6L768.8 1145.6L770.4 1128.5L772.4 1112.4L773.2 1108.3L773.6 1107.7L774 1108.9L774.8 1116.5L776 1132.7L781.2 1192.4L783.2 1210.6L784.8 1221.8L786 1227.8L788.8 1236.9L790 1239.5L790.8 1240.5L791.6 1240.6L792 1240.3L792.8 1238.9L794 1235.4L796 1228.1L797.2 1222.6L798.4 1215.8L800.4 1201.4L801.6 1188.3L804 1155L807.2 1116.2L809.2 1083.2L810.4 1073L811.2 1069.5L811.6 1069.6L812.4 1075.6L813.2 1084.2L814.4 1101.1L815.2 1108.5L816.4 1117L817.2 1120.8L818.4 1125.4L818.8 1126.2L819.2 1126.4L820 1125.5L822 1121.5L822.4 1121.1L822.8 1121L823.2 1121.7L826.4 1137.2L826.8 1138.5L827.2 1138.8L827.6 1138.2L828.4 1134.9L830.4 1122.5L834.4 1102.6L836.4 1088.5L837.6 1082.3L838.4 1079.5L838.8 1079L839.2 1079.5L841.2 1086.4L844.4 1092.8L845.2 1094.9L846.4 1102.7L850 1134.7L855.2 1195.9L857.2 1215.4L858.4 1224.9L860 1234.4L860.8 1238.3L861.6 1240.6L862 1240.8L864.4 1239.6L871.2 1234.7L872.8 1234L874 1233.9L875.6 1234.1L877.2 1234.9L882.8 1239L886 1240.7L888 1241.4L890 1241.8L895.2 1242.1L936.4 1242.3L1050 1242.2L1054.8 1241.9L1058.4 1241.3L1061.6 1240.3L1064.8 1238.6" fill="none" stroke="#dcc0a6" stroke-width="1.7" stroke-linejoin="round" clip-path="url(#c11)"/><clipPath id="c12"><rect x="163" y="780" width="30" height="1292"/><rect x="244.7" y="780" width="67.7" height="1292"/><rect x="364.4" y="780" width="26" height="1292"/><rect x="862" y="780" width="24" height="1292"/><rect x="953.7" y="780" width="28.1" height="1292"/></clipPath><path d="M161.2 1234.5L162.4 1239.9L163.2 1242.1L163.6 1242.7L164 1242.7L164.4 1242.4L165.2 1240.5L166.4 1235.5L168.8 1223L174.8 1189.5L176 1184.6L176.8 1182.4L177.6 1181.1L178 1180.9L178.4 1180.9L178.8 1181.2L179.6 1182.5L180.4 1184.7L181.2 1187.8L182.8 1195.9L186.8 1219L189.2 1229.5L190.4 1233.2L191.6 1235.9L193.2 1238.4L194.8 1239.8M242.8 1238.5L244.4 1240.2L245.6 1240.8L246.8 1241.1L251.2 1241.2L256.4 1240.6L259.6 1239.9L262.8 1238.8L274 1233.2L276.8 1232.4L279.2 1232.3L281.2 1232.6L283.6 1233.4L293.2 1238.3L296 1239.4L298.4 1240.1L301.2 1240.7L304.8 1241.1L314.4 1241.4M362.8 1241.5L392.4 1241.5M860.4 1236.5L861.2 1239.7L861.6 1240.6L862 1240.8L865.2 1239.1L871.2 1234.7L873.2 1233.9L874.8 1233.9L876 1234.3L877.6 1235.1L884 1239.7L886 1240.7L888 1241.4M952 1242.3L983.6 1242.3" fill="none" stroke="#cf6a6e" stroke-width="1.7" stroke-linejoin="round" clip-path="url(#c12)"/><line x1="31" y1="1263" x2="1066.7" y2="1263" stroke="#333" stroke-width="2.4" stroke-linecap="butt"/><line x1="42.8" y1="1263" x2="42.8" y2="1280.2" stroke="#333" stroke-width="2.0" stroke-linecap="butt"/><text x="31.66" y="1304.65" font-size="16.72" font-weight="normal" fill="#262626" textLength="22.32" lengthAdjust="spacingAndGlyphs" stroke="#262626" stroke-width="0.7">5.5</text><line x1="101.87" y1="1263" x2="101.87" y2="1280.2" stroke="#333" stroke-width="2.0" stroke-linecap="butt"/><text x="90.73" y="1304.65" font-size="16.72" font-weight="normal" fill="#262626" textLength="22.1" lengthAdjust="spacingAndGlyphs" stroke="#262626" stroke-width="0.7">5.4</text><line x1="161.64" y1="1263" x2="161.64" y2="1280.2" stroke="#333" stroke-width="2.0" stroke-linecap="butt"/><text x="150.5" y="1304.65" font-size="16.72" font-weight="normal" fill="#262626" textLength="22.35" lengthAdjust="spacingAndGlyphs" stroke="#262626" stroke-width="0.7">5.3</text><line x1="221.21" y1="1263" x2="221.21" y2="1280.2" stroke="#333" stroke-width="2.0" stroke-linecap="butt"/><text x="210.06" y="1304.65" font-size="16.72" font-weight="normal" fill="#262626" textLength="22.46" lengthAdjust="spacingAndGlyphs" stroke="#262626" stroke-width="0.7">5.2</text><line x1="279.08" y1="1263" x2="279.08" y2="1280.2" stroke="#333" stroke-width="2.0" stroke-linecap="butt"/><text x="267.93" y="1304.65" font-size="16.72" font-weight="normal" fill="#262626" textLength="22.44" lengthAdjust="spacingAndGlyphs" stroke="#262626" stroke-width="0.7">5.1</text><line x1="338.15" y1="1263" x2="338.15" y2="1280.2" stroke="#333" stroke-width="2.0" stroke-linecap="butt"/><text x="327.01" y="1304.65" font-size="16.72" font-weight="normal" fill="#262626" textLength="22.27" lengthAdjust="spacingAndGlyphs" stroke="#262626" stroke-width="0.7">5.0</text><line x1="397.22" y1="1263" x2="397.22" y2="1280.2" stroke="#333" stroke-width="2.0" stroke-linecap="butt"/><text x="386.35" y="1304.65" font-size="16.72" font-weight="normal" fill="#262626" textLength="22.12" lengthAdjust="spacingAndGlyphs" stroke="#262626" stroke-width="0.7">4.9</text><line x1="456.29" y1="1263" x2="456.29" y2="1280.2" stroke="#333" stroke-width="2.0" stroke-linecap="butt"/><text x="445.43" y="1304.65" font-size="16.72" font-weight="normal" fill="#262626" textLength="22.05" lengthAdjust="spacingAndGlyphs" stroke="#262626" stroke-width="0.7">4.8</text><line x1="515.36" y1="1263" x2="515.36" y2="1280.2" stroke="#333" stroke-width="2.0" stroke-linecap="butt"/><text x="504.49" y="1304.65" font-size="16.72" font-weight="normal" fill="#262626" textLength="22.17" lengthAdjust="spacingAndGlyphs" stroke="#262626" stroke-width="0.7">4.7</text><line x1="574.43" y1="1263" x2="574.43" y2="1280.2" stroke="#333" stroke-width="2.0" stroke-linecap="butt"/><text x="563.56" y="1304.65" font-size="16.72" font-weight="normal" fill="#262626" textLength="22.07" lengthAdjust="spacingAndGlyphs" stroke="#262626" stroke-width="0.7">4.6</text><line x1="633.5" y1="1263" x2="633.5" y2="1280.2" stroke="#333" stroke-width="2.0" stroke-linecap="butt"/><text x="622.64" y="1304.65" font-size="16.72" font-weight="normal" fill="#262626" textLength="22.03" lengthAdjust="spacingAndGlyphs" stroke="#262626" stroke-width="0.7">4.5</text><line x1="692.57" y1="1263" x2="692.57" y2="1280.2" stroke="#333" stroke-width="2.0" stroke-linecap="butt"/><text x="681.71" y="1304.65" font-size="16.72" font-weight="normal" fill="#262626" textLength="21.82" lengthAdjust="spacingAndGlyphs" stroke="#262626" stroke-width="0.7">4.4</text><line x1="751.64" y1="1263" x2="751.64" y2="1280.2" stroke="#333" stroke-width="2.0" stroke-linecap="butt"/><text x="740.77" y="1304.65" font-size="16.72" font-weight="normal" fill="#262626" textLength="22.07" lengthAdjust="spacingAndGlyphs" stroke="#262626" stroke-width="0.7">4.3</text><line x1="810.71" y1="1263" x2="810.71" y2="1280.2" stroke="#333" stroke-width="2.0" stroke-linecap="butt"/><text x="799.84" y="1304.65" font-size="16.72" font-weight="normal" fill="#262626" textLength="22.17" lengthAdjust="spacingAndGlyphs" stroke="#262626" stroke-width="0.7">4.2</text><line x1="869.78" y1="1263" x2="869.78" y2="1280.2" stroke="#333" stroke-width="2.0" stroke-linecap="butt"/><text x="858.91" y="1304.65" font-size="16.72" font-weight="normal" fill="#262626" textLength="22.15" lengthAdjust="spacingAndGlyphs" stroke="#262626" stroke-width="0.7">4.1</text><line x1="928.85" y1="1263" x2="928.85" y2="1280.2" stroke="#333" stroke-width="2.0" stroke-linecap="butt"/><text x="917.99" y="1304.65" font-size="16.72" font-weight="normal" fill="#262626" textLength="21.98" lengthAdjust="spacingAndGlyphs" stroke="#262626" stroke-width="0.7">4.0</text><line x1="987.92" y1="1263" x2="987.92" y2="1280.2" stroke="#333" stroke-width="2.0" stroke-linecap="butt"/><text x="976.81" y="1304.65" font-size="16.72" font-weight="normal" fill="#262626" textLength="22.37" lengthAdjust="spacingAndGlyphs" stroke="#262626" stroke-width="0.7">3.9</text><line x1="1046.99" y1="1263" x2="1046.99" y2="1280.2" stroke="#333" stroke-width="2.0" stroke-linecap="butt"/><text x="1035.88" y="1304.65" font-size="16.72" font-weight="normal" fill="#262626" textLength="22.3" lengthAdjust="spacingAndGlyphs" stroke="#262626" stroke-width="0.7">3.8</text><text x="438.92" y="1324" font-size="19.77" font-weight="bold" fill="#111" textLength="212.55" lengthAdjust="spacingAndGlyphs">Chemical shift (ppm)</text><text x="153.53" y="694.7" font-size="30.38" font-weight="normal" fill="#111" textLength="60.02" lengthAdjust="spacingAndGlyphs" stroke="#111" stroke-width="1.2">TAG</text><text x="222.67" y="1000.9" font-size="29.36" font-weight="normal" fill="#111" textLength="124.33" lengthAdjust="spacingAndGlyphs" stroke="#111" stroke-width="1.2">1,2-DAG</text><text x="329.96" y="953.9" font-size="30.23" font-weight="normal" fill="#111" textLength="104.11" lengthAdjust="spacingAndGlyphs" stroke="#111" stroke-width="1.2">2-MAG</text><text x="893.27" y="916.5" font-size="30.23" font-weight="normal" fill="#111" textLength="124.23" lengthAdjust="spacingAndGlyphs" stroke="#111" stroke-width="1.2">1,3-DAG</text><text x="968" y="985.9" font-size="29.94" font-weight="normal" fill="#111" textLength="104.17" lengthAdjust="spacingAndGlyphs" stroke="#111" stroke-width="1.2">1-MAG</text><text x="1002.59" y="671.6" font-size="33.65" font-weight="bold" fill="#111" textLength="10.75" lengthAdjust="spacingAndGlyphs" stroke="#111" stroke-width="0.8">(</text><text x="1036.47" y="671.6" font-size="33.65" font-weight="bold" fill="#111" textLength="10.98" lengthAdjust="spacingAndGlyphs" stroke="#111" stroke-width="0.8">)</text><text x="1014.84" y="672.8" font-size="36.34" font-weight="bold" fill="#111" textLength="21.07" lengthAdjust="spacingAndGlyphs" stroke="#111" stroke-width="1.0">B</text><path d="M284.7 1013.5 L284.7 1072 M275.4 1055.7 L284.7 1072 L294.8 1055.7" fill="none" stroke="#111" stroke-width="2.4" stroke-linecap="butt" stroke-linejoin="miter"/><path d="M380.6 967.7 L380.6 1071.7 M371 1056 L380.6 1071.7 L390.4 1056" fill="none" stroke="#111" stroke-width="2.4" stroke-linecap="butt" stroke-linejoin="miter"/><path d="M955.3 934.5 L879.8 1068.4 M880.8 1050.7 L879.8 1068.4 L897 1058.6" fill="none" stroke="#111" stroke-width="2.4" stroke-linecap="butt" stroke-linejoin="miter"/><path d="M1019.9 1004.5 L974.5 1072.5 M975.5 1054.9 L974.5 1072.5 L992.2 1064.2" fill="none" stroke="#111" stroke-width="2.4" stroke-linecap="butt" stroke-linejoin="miter"/><line x1="861.8" y1="714.6" x2="896" y2="714.6" stroke="#222" stroke-width="3.0" stroke-linecap="butt"/><line x1="861.8" y1="754.8" x2="896" y2="754.8" stroke="#c8b2e8" stroke-width="2.4" stroke-linecap="butt"/><line x1="861.8" y1="796.1" x2="896" y2="796.1" stroke="#f0d690" stroke-width="2.4" stroke-linecap="butt"/><text x="918.04" y="724.2" font-size="25.58" font-weight="normal" fill="#111" textLength="172.31" lengthAdjust="spacingAndGlyphs" stroke="#111" stroke-width="0.8">Before digestion</text><text x="918.04" y="764.9" font-size="25.44" font-weight="normal" fill="#111" textLength="210.43" lengthAdjust="spacingAndGlyphs" stroke="#111" stroke-width="0.8">Digestion by 60 min</text><text x="918.04" y="805.7" font-size="25.58" font-weight="normal" fill="#111" textLength="223.53" lengthAdjust="spacingAndGlyphs" stroke="#111" stroke-width="0.8">Digestion by 120 min</text><clipPath id="c13"><rect x="26.7" y="1410.2" width="1046" height="661.8"/></clipPath><path d="M31.7 1841.3L42.9 1841.1L57.7 1840.3L71.3 1841L76.5 1841L81.7 1840.4L83.7 1839.9L85.7 1839L88.1 1837.5L90.1 1835.5L92.1 1832.7L94.1 1828.9L95.7 1824.9L97.3 1819.9L98.9 1813.9L100.5 1806.6L102.5 1795.7L104.9 1779.8L107.3 1761.1L109.7 1740.1L112.9 1709.2L115.3 1683.9L117.3 1659.9L118.9 1636.5L120.9 1597.5L122.9 1540.9L124.5 1477.8L126.5 1380.2L148.1 1380.2L150.1 1493.7L151.7 1570.6L153.3 1633.6L155.3 1693.8L157.3 1736.4L158.5 1755.2L159.7 1769.7L160.9 1780.7L162.1 1788.5L163.3 1793.4L164.1 1795.1L164.5 1795.5L164.9 1795.5L165.3 1795.1L166.1 1793.2L166.9 1789.6L167.7 1784.2L169.3 1766.9L170.5 1747.7L172.1 1712.9L173.7 1668L178.5 1502.5L180.1 1456.2L181.3 1431.4L182.1 1420.8L182.9 1415.6L183.3 1415L183.7 1415.9L184.1 1418.1L185.3 1433L186.9 1469.6L188.5 1520.4L193.3 1690.9L194.9 1736L196.5 1771.2L198.5 1801.7L199.3 1810.2L200.5 1819.8L201.7 1826.4L202.9 1830.5L204.1 1833L204.9 1834L205.7 1834.6L207.3 1835.1L211.7 1834.7L214.1 1834.9L216.5 1835.6L223.3 1839L226.9 1840.2L231.3 1840.9L238.1 1841.2L262.1 1841.2L270.1 1841L276.1 1840.4L286.1 1838.6L290.1 1838.3L294.5 1838.6L302.9 1840.2L306.9 1840.7L311.7 1841L317.7 1841.1L667.3 1841.1L672.5 1841L676.5 1840.6L679.7 1839.9L686.1 1838L689.3 1837.6L692.9 1838L699.3 1839.9L702.5 1840.6L706.5 1841L712.1 1841.1L718.1 1840.6L724.5 1839.6L726.5 1839.1L727.7 1838.4L728.9 1837.3L730.5 1835.4L732.1 1832.3L734.1 1825.8L734.9 1821.3L737.3 1796L739.7 1773.7L740.9 1757.7L742.1 1736.1L743.3 1703.4L743.7 1684.8L744.9 1586.4L745.7 1540.4L747.3 1463.6L749.3 1381L749.7 1380.2L766.9 1380.2L767.3 1392.5L767.7 1416.6L768.9 1561.8L769.7 1620.5L770.5 1663.5L772.5 1747.2L773.3 1765.7L774.9 1794.7L776.1 1810.5L776.9 1817.1L777.7 1819.8L779.3 1823L781.7 1825.6L795.3 1834.6L801.3 1837.7L803.3 1838.2L804.9 1838.3L807.7 1837.7L809.3 1837.1L815.3 1831.4L817.7 1828.4L818.9 1826.3L819.7 1824.5L820.5 1821.7L820.9 1819.5L822.1 1809.9L822.9 1800.3L826.5 1741.6L828.1 1718.4L828.9 1702.5L829.3 1689.3L830.9 1590.3L832.5 1518.9L836.1 1388.7L836.5 1380.2L855.7 1380.2L856.5 1422.2L857.7 1541.7L858.5 1594.8L859.7 1641.3L863.3 1749.1L864.1 1765L864.9 1776.3L867.3 1800L868.1 1805.4L869.3 1811L871.3 1817.9L872.5 1821L873.7 1823.3L874.5 1824.2L875.7 1824.8L879.7 1825.9L883.7 1827.7L886.5 1829.5L890.5 1833.1L894.5 1836.1L896.1 1837L898.9 1837.8L902.5 1837.7L912.5 1836.8L915.7 1836.8L930.5 1838.8L936.9 1840.2L939.7 1840.6L1067.7 1840.9" fill="none" stroke="#686868" stroke-width="1.7" stroke-linejoin="round" clip-path="url(#c13)"/><clipPath id="c14"><rect x="165" y="1410.2" width="38" height="661.8"/><rect x="270.7" y="1410.2" width="37.8" height="661.8"/><rect x="366.6" y="1410.2" width="30.2" height="661.8"/><rect x="872.5" y="1410.2" width="27.1" height="661.8"/><rect x="955.8" y="1410.2" width="29.1" height="661.8"/></clipPath><path d="M163.3 1793.4L164.1 1795.1L164.5 1795.5L164.9 1795.5L165.3 1795.1L166.1 1793.2L166.5 1791.6L167.3 1787.1L168.9 1772.1L170.5 1747.7L172.1 1712.9L173.7 1668L178.1 1515.8L179.7 1466.6L180.9 1438.5L181.7 1425.4L182.5 1417.5L182.9 1415.6L183.3 1415L183.7 1415.9L184.1 1418.1L184.9 1426.7L185.7 1440.5L186.9 1469.6L188.5 1520.4L193.3 1690.9L194.9 1736L196.5 1771.2L198.1 1796.7L198.9 1806.2L200.1 1817L200.9 1822.3L202.1 1828L203.3 1831.5L204.1 1833L204.9 1834M268.9 1841L274.9 1840.6L285.7 1838.6L290.1 1838.3L294.1 1838.6L304.1 1840.4L310.1 1841M364.9 1841.2L398.5 1841.1M870.5 1815.3L872.5 1821L873.7 1823.3L874.5 1824.2L875.7 1824.8L878.1 1825.4L880.5 1826.2L884.5 1828.2L886.9 1829.8L890.1 1832.8L892.9 1835L895.3 1836.6L898.5 1837.7L901.3 1837.8M954.1 1840.7L986.5 1840.8" fill="none" stroke="#cf6a6e" stroke-width="1.7" stroke-linejoin="round" clip-path="url(#c14)"/><clipPath id="c15"><rect x="26.7" y="1483.5" width="1046" height="588.5"/></clipPath><path d="M31.7 1913.7L40.9 1913.6L46.1 1913.1L50.5 1912L58.1 1909.4L60.1 1909L62.1 1908.8L64.1 1909L66.5 1909.5L74.9 1912.6L79.3 1913.7L83.3 1914.1L86.5 1913.6L88.5 1912.7L90.5 1911.2L92.1 1909.5L93.7 1907L95.3 1903.7L96.5 1900.5L98.9 1891.5L101.3 1878.3L103.7 1859.9L105.7 1839.9L108.1 1810.2L111.7 1754.8L115.7 1682.4L120.5 1587.5L124.9 1489.9L125.7 1475.5L126.5 1466.3L127.3 1461.4L128.1 1459.1L129.3 1456.9L130.1 1453.8L130.5 1453.5L147.7 1453.5L148.1 1464L150.5 1614.3L152.1 1701.6L153.7 1772L155.3 1824.5L156.1 1844.4L157.3 1867.6L158.1 1879.2L159.3 1892L160.5 1900.4L161.7 1905.8L162.5 1908.2L163.3 1909.8L164.1 1910.9L164.9 1911.4L166.1 1911.6L166.9 1911.2L167.7 1910.4L168.5 1909.2L170.1 1905L171.3 1900L172.5 1893.1L173.7 1884.4L177.3 1852.7L178.5 1843.7L179.7 1837.6L180.5 1835.6L180.9 1835.3L181.3 1835.4L182.1 1837.1L182.9 1840.5L183.7 1845.4L188.1 1883.2L190.1 1897.1L191.7 1904.5L192.5 1907.1L193.7 1909.8L195.3 1911.9L196.1 1912.5L197.3 1913.1L200.1 1913.3L203.3 1912.7L206.5 1911.4L212.1 1908.3L215.7 1907L216.9 1906.4L218.1 1905.1L219.3 1902.5L220.5 1897.4L221.7 1888.7L222.9 1874.9L223.7 1862.3L225.3 1828.6L228.5 1740.7L229.7 1712.2L230.9 1693.5L231.7 1688.2L232.1 1687.9L232.5 1689.3L233.3 1696.6L234.5 1717.9L238.9 1836.3L240.1 1862L241.3 1881.3L242.5 1894.7L243.3 1900.8L244.1 1905.2L244.9 1908.3L245.7 1910.3L246.9 1912.1L248.1 1913L250.1 1913.4L253.3 1913.4L257.7 1913L261.7 1912.2L266.9 1910.2L277.3 1904.9L280.1 1904L282.9 1903.7L285.7 1904L288.5 1904.9L298.1 1909.9L302.5 1911.7L306.9 1912.8L312.5 1913.4L324.9 1913.7L424.5 1913.7L431.3 1913.5L435.3 1912.8L438.1 1911.5L440.5 1909.3L442.5 1906.4L444.5 1902.1L446.1 1897.6L448.1 1890.6L453.7 1866.5L455.7 1858.9L456.9 1855.3L458.1 1852.7L459.3 1851.3L460.1 1851L460.9 1851.3L462.1 1852.7L463.3 1855.3L464.5 1858.9L466.5 1866.5L472.1 1890.6L474.1 1897.6L475.7 1902.1L477.7 1906.4L479.7 1909.3L482.1 1911.5L484.5 1912.7L486.5 1913.2L488.5 1913.5L494.9 1913.7L647.3 1913.8L648.5 1913.4L649.7 1912.6L652.5 1910L654.1 1906.8L655.7 1902.5L656.9 1898.2L658.5 1890.8L660.5 1878.5L662.1 1869.9L662.5 1869.5L663.7 1871.4L664.1 1871.9L664.5 1871.8L665.3 1870.3L666.5 1866.4L668.5 1851.4L669.7 1844.7L670.5 1841.2L670.9 1840.2L671.3 1840.1L671.7 1841.6L672.1 1844.6L673.7 1860.6L674.1 1862.6L674.9 1865.4L676.1 1868L676.9 1869.1L678.9 1870.8L679.7 1872.1L684.5 1896.8L686.9 1906.1L688.1 1909.2L689.3 1910.6L690.9 1911.8L692.1 1912.2L694.5 1912.5L707.3 1913.6L718.1 1913.9L720.5 1913.5L723.3 1912.5L725.7 1910.8L727.3 1908.8L728.9 1905.7L730.9 1900.3L731.7 1897.5L732.9 1891.7L735.3 1876.5L736.9 1863L738.1 1850.5L742.5 1789.4L744.5 1768.1L746.1 1754.2L748.5 1737.2L750.9 1725.9L751.7 1722.9L752.5 1720.9L753.3 1720L754.9 1719.3L755.3 1718L756.1 1708L759.7 1644.6L761.3 1621.8L762.1 1612.6L763.3 1603L764.1 1598.7L764.5 1598L764.9 1599.7L765.3 1604.1L766.5 1623.5L769.3 1683.9L771.3 1720.7L771.7 1726.1L772.1 1728.2L772.5 1725.9L773.3 1711.1L776.1 1633.4L776.9 1622.3L777.7 1615.1L778.1 1614L778.5 1616.2L779.3 1629.9L780.9 1666.5L786.1 1816.5L787.3 1844.1L788.9 1871.1L790.1 1886.2L792.5 1906.5L793.3 1910.8L793.7 1912L794.1 1912.4L794.5 1912.2L794.9 1911.5L796.1 1907.5L798.1 1897.5L798.9 1892.4L800.1 1882.3L801.3 1869.7L802.5 1855L803.3 1842.2L805.7 1795.6L808.5 1730.8L812.9 1625.5L815.3 1551.2L815.7 1550.2L816.5 1564L820.1 1660.1L821.3 1677.7L822.5 1690.2L822.9 1692.7L823.3 1692.9L826.1 1675.7L826.5 1673.9L826.9 1673L827.3 1673.7L828.5 1684L829.3 1695.5L830.9 1732.9L831.3 1738.5L832.1 1746.1L832.9 1750L833.3 1750L833.7 1748.8L834.5 1743.8L836.1 1730.7L837.7 1714L839.3 1699.7L840.1 1694.5L841.3 1688.6L841.7 1687.6L842.1 1687.6L842.5 1688.4L843.7 1692.6L844.1 1693.7L844.5 1694.1L845.3 1693.6L846.9 1691.9L847.3 1691.9L847.7 1693.3L848.5 1700.4L850.1 1719.5L859.7 1863.2L860.9 1878.7L862.1 1891.5L863.3 1901.5L864.1 1906.5L865.7 1912.6L866.1 1913.1L866.5 1913.1L868.1 1912.8L869.3 1912.2L871.3 1910.5L874.9 1906.4L876.1 1905.6L876.9 1905.3L877.7 1905.4L878.9 1906.1L883.3 1910.9L885.3 1912.4L887.7 1913.3L890.9 1913.5L894.9 1913.4L898.5 1913.1L901.7 1912.5L907.7 1910.9L910.9 1910.6L914.1 1910.9L922.9 1913L926.1 1913.4L930.1 1913.5L1008.9 1913.4L1050.5 1913.1L1056.1 1912.8L1060.1 1912.1L1063.7 1910.8L1067.7 1908.6" fill="none" stroke="#9483cc" stroke-width="1.7" stroke-linejoin="round" clip-path="url(#c15)"/><clipPath id="c16"><rect x="165" y="1483.5" width="33" height="588.5"/><rect x="253.8" y="1483.5" width="54.7" height="588.5"/><rect x="365.5" y="1483.5" width="30.2" height="588.5"/><rect x="866" y="1483.5" width="26" height="588.5"/><rect x="955.8" y="1483.5" width="29.1" height="588.5"/></clipPath><path d="M163.3 1909.8L164.1 1910.9L165.3 1911.6L166.5 1911.4L167.3 1910.9L168.5 1909.2L169.3 1907.4L170.9 1901.8L172.1 1895.6L173.3 1887.5L177.3 1852.7L178.5 1843.7L179.7 1837.6L180.5 1835.6L180.9 1835.3L181.3 1835.4L182.1 1837.1L183.3 1842.8L184.5 1851.5L188.5 1886.4L190.1 1897.1L191.3 1902.9L192.9 1908.1L194.5 1911.1L195.3 1911.9L196.5 1912.8L198.1 1913.2L199.7 1913.3M252.1 1913.5L258.1 1912.9L262.9 1911.8L267.3 1910.1L277.3 1904.9L280.1 1904L282.9 1903.7L285.7 1904L288.5 1904.9L297.7 1909.7L301.7 1911.4L305.7 1912.6L310.1 1913.3M363.7 1913.7L397.3 1913.7M864.1 1906.5L865.3 1911.5L865.7 1912.6L866.1 1913.1L868.1 1912.8L869.7 1911.9L871.3 1910.5L874.9 1906.4L876.1 1905.6L877.3 1905.3L878.1 1905.6L879.3 1906.4L883.3 1910.9L884.5 1911.9L885.7 1912.6L886.9 1913.1L888.5 1913.4L893.7 1913.5M954.1 1913.6L986.5 1913.5" fill="none" stroke="#cf6a6e" stroke-width="1.7" stroke-linejoin="round" clip-path="url(#c16)"/><clipPath id="c17"><rect x="26.7" y="1556" width="1046" height="516"/></clipPath><path d="M31.7 1987.3L41.7 1987.2L46.9 1986.8L50.9 1985.9L58.1 1983.4L61.3 1982.9L62.9 1982.9L64.9 1983.3L72.5 1985.9L76.9 1986.8L79.7 1986.9L82.5 1986.7L84.9 1986.3L86.9 1985.6L88.9 1984.5L90.9 1982.8L92.9 1980.3L94.5 1977.4L96.1 1973.6L97.3 1970L98.9 1964L100.1 1958.4L102.1 1947L103.7 1935.5L105.3 1921.8L106.9 1905.7L110.1 1865.5L112.9 1821.2L116.1 1759.6L118.9 1695.6L121.7 1621.5L124.9 1526L146.9 1526.1L151.3 1760L153.3 1842.1L154.9 1891.4L156.9 1934.1L157.7 1946.2L158.9 1960L160.1 1969.8L161.7 1978.6L163.3 1984.8L164.1 1986.9L164.9 1988L165.3 1988.1L166.1 1987.4L166.9 1985.6L167.7 1982.9L171.3 1967.6L175.3 1947.5L176.9 1940.4L178.5 1935.4L179.3 1934L180.1 1933.5L180.9 1933.8L181.7 1935L183.3 1939.6L184.9 1946.5L188.9 1966.5L190.9 1974.5L192.9 1980.2L194.1 1982.6L195.3 1984.2L196.9 1985.7L198.5 1986.4L200.5 1986.7L202.9 1986.4L209.3 1984.3L213.7 1983.4L214.9 1982.9L216.5 1981.6L217.7 1979.5L218.9 1976L220.1 1970.7L221.3 1963.1L222.1 1956.5L224.5 1929.8L228.1 1877.9L229.7 1858.1L230.5 1850.8L231.3 1845.6L232.1 1843L232.5 1842.6L232.9 1843L233.7 1845.6L234.5 1850.8L235.3 1858.1L236.9 1878L240.9 1935.2L242.5 1953.2L243.7 1963.7L245.3 1973.8L246.1 1977.4L247.3 1981.3L248.1 1983.1L249.3 1984.9L250.5 1986L252.1 1986.8L253.7 1987.1L255.7 1987.2L262.1 1986.8L267.3 1986L276.9 1983.8L281.7 1983.3L286.5 1983.8L295.3 1985.9L299.3 1986.6L303.7 1987.1L309.3 1987.3L425.3 1987.4L431.7 1987.2L435.3 1986.6L438.1 1985.4L440.5 1983.3L442.5 1980.4L444.5 1976.2L446.1 1971.6L448.1 1964.5L453.7 1940.2L455.7 1932.7L456.9 1929.4L457.7 1927.8L458.9 1926.3L459.7 1926.1L460.5 1926.4L461.7 1927.9L462.5 1929.6L463.7 1933.1L465.7 1940.6L471.3 1964.9L473.3 1971.9L474.9 1976.4L476.5 1979.9L478.5 1983L479.7 1984.3L480.9 1985.2L483.3 1986.4L485.3 1986.9L487.3 1987.2L494.5 1987.4L631.7 1987.4L646.9 1987.1L648.5 1986.6L650.5 1985.5L651.3 1984.5L652.1 1982.8L655.3 1974.1L657.3 1967L659.3 1957L660.5 1949.1L661.3 1946L661.7 1944.9L662.1 1944.5L662.5 1944.7L663.3 1945.8L663.7 1946.1L664.1 1945.9L665.3 1943.1L666.1 1939.2L668.1 1922.5L668.9 1918L669.7 1915.1L670.1 1915.1L670.9 1918.9L671.7 1925L672.5 1933.6L673.3 1939.1L673.7 1940.7L674.9 1942.1L678.1 1943.9L678.9 1944.7L679.3 1946.1L681.7 1960.1L684.1 1971.4L685.3 1976.1L686.9 1981.3L687.7 1983.6L688.5 1985.2L689.7 1986.1L691.7 1986.9L697.3 1987.5L718.1 1987.4L722.1 1986.8L724.9 1985.1L727.3 1984L728.1 1983.4L728.9 1982.2L729.7 1980.2L730.9 1975.8L732.1 1967.1L737.3 1919.7L739.7 1900.7L742.5 1868.2L744.5 1852.1L746.5 1841.4L747.7 1837.6L748.9 1835.6L749.7 1834.7L750.9 1834L754.5 1832.7L754.9 1832.4L755.3 1831.5L756.1 1824.8L758.1 1800.7L760.1 1789.6L761.7 1776.6L762.5 1772.8L763.3 1770.3L763.7 1770.5L764.1 1772.8L764.9 1781.9L766.1 1800L768.1 1840.3L769.7 1860.1L770.5 1866.6L770.9 1868.1L771.3 1867.8L771.7 1864.3L773.7 1826L774.9 1811.8L776.1 1800.2L776.9 1796.5L777.3 1796.7L778.1 1805L778.9 1819.5L780.1 1860.3L780.9 1876.9L782.1 1896.7L784.9 1936.4L786.9 1958.7L788.5 1972.9L790.5 1983.6L791.3 1986.4L791.7 1987.2L792.1 1987.5L792.5 1987.3L792.9 1986.7L793.7 1984.7L794.9 1980L796.5 1972.4L798.1 1960.5L800.1 1940.4L801.3 1924.3L803.7 1884.6L808.1 1820.3L810.9 1771.3L812.9 1745.1L813.7 1739.1L814.1 1738.2L814.5 1739.7L814.9 1743.5L816.1 1761.7L817.7 1803L818.1 1810.3L819.3 1823.5L820.5 1830.2L821.7 1834L822.1 1834.3L822.5 1834L824.5 1828.9L824.9 1828.4L825.3 1828.6L825.7 1830.5L826.9 1840.9L828.1 1854.3L829.3 1865.1L830.1 1871.1L830.9 1874.3L831.3 1874.2L832.1 1870.9L834.1 1856.4L837.7 1827.6L838.5 1822.5L840.1 1815.2L840.9 1813.4L841.3 1813.3L842.1 1814.1L843.3 1815.8L844.1 1816.3L844.5 1816L845.7 1813.6L846.1 1813.3L846.5 1814.1L847.3 1819.1L848.9 1833.6L850.9 1856.4L854.9 1920.4L857.3 1951.4L858.5 1962.8L859.7 1972L861.7 1983.2L862.5 1986.2L862.9 1987L863.3 1987.2L864.9 1987.2L867.7 1986.7L869.7 1985.9L873.7 1983.9L875.7 1983.5L876.9 1983.5L878.1 1983.9L882.5 1986.1L884.9 1986.9L887.7 1987.3L891.7 1987.4L1052.1 1987.3L1056.9 1987.1L1060.5 1986.7L1063.7 1985.9L1067.7 1984.6" fill="none" stroke="#dcc0a6" stroke-width="1.7" stroke-linejoin="round" clip-path="url(#c17)"/><clipPath id="c18"><rect x="165" y="1556" width="32" height="516"/><rect x="253.8" y="1556" width="54.7" height="516"/><rect x="365.5" y="1556" width="30.2" height="516"/><rect x="866" y="1556" width="24" height="516"/><rect x="955.8" y="1556" width="29.1" height="516"/></clipPath><path d="M163.3 1984.8L164.5 1987.6L164.9 1988L165.3 1988.1L166.1 1987.4L166.9 1985.6L168.5 1979.8L170.9 1969.4L175.3 1947.5L176.9 1940.4L178.5 1935.4L179.3 1934L180.1 1933.5L180.9 1933.8L181.7 1935L183.3 1939.6L184.9 1946.5L189.3 1968.3L190.9 1974.5L192.1 1978.2L193.7 1981.9L195.3 1984.2L196.9 1985.7L198.9 1986.5M252.1 1986.8L253.7 1987.1L255.7 1987.2L262.1 1986.8L267.3 1986L276.9 1983.8L281.7 1983.3L286.5 1983.8L295.3 1985.9L299.7 1986.6L304.5 1987.1L310.1 1987.3M363.7 1987.4L397.3 1987.4M864.1 1987.2L866.1 1987.1L868.1 1986.6L873.7 1983.9L874.9 1983.6L876.1 1983.4L878.1 1983.9L882.5 1986.1L884.5 1986.8L887.3 1987.3L891.7 1987.4M954.1 1987.4L986.5 1987.4" fill="none" stroke="#cf6a6e" stroke-width="1.7" stroke-linejoin="round" clip-path="url(#c18)"/><line x1="32.9" y1="1996.6" x2="1070" y2="1996.6" stroke="#333" stroke-width="2.4" stroke-linecap="butt"/><line x1="44.9" y1="1996.6" x2="44.9" y2="2012" stroke="#333" stroke-width="2.0" stroke-linecap="butt"/><text x="33.6" y="2035.45" font-size="15.55" font-weight="normal" fill="#262626" textLength="22.64" lengthAdjust="spacingAndGlyphs" stroke="#262626" stroke-width="0.7">5.5</text><line x1="103.98" y1="1996.6" x2="103.98" y2="2012" stroke="#333" stroke-width="2.0" stroke-linecap="butt"/><text x="92.69" y="2035.45" font-size="15.55" font-weight="normal" fill="#262626" textLength="22.41" lengthAdjust="spacingAndGlyphs" stroke="#262626" stroke-width="0.7">5.4</text><line x1="163.76" y1="1996.6" x2="163.76" y2="2012" stroke="#333" stroke-width="2.0" stroke-linecap="butt"/><text x="152.46" y="2035.45" font-size="15.55" font-weight="normal" fill="#262626" textLength="22.67" lengthAdjust="spacingAndGlyphs" stroke="#262626" stroke-width="0.7">5.3</text><line x1="223.34" y1="1996.6" x2="223.34" y2="2012" stroke="#333" stroke-width="2.0" stroke-linecap="butt"/><text x="212.03" y="2035.45" font-size="15.55" font-weight="normal" fill="#262626" textLength="22.78" lengthAdjust="spacingAndGlyphs" stroke="#262626" stroke-width="0.7">5.2</text><line x1="281.22" y1="1996.6" x2="281.22" y2="2012" stroke="#333" stroke-width="2.0" stroke-linecap="butt"/><text x="269.92" y="2035.45" font-size="15.55" font-weight="normal" fill="#262626" textLength="22.76" lengthAdjust="spacingAndGlyphs" stroke="#262626" stroke-width="0.7">5.1</text><line x1="340.3" y1="1996.6" x2="340.3" y2="2012" stroke="#333" stroke-width="2.0" stroke-linecap="butt"/><text x="329" y="2035.45" font-size="15.55" font-weight="normal" fill="#262626" textLength="22.59" lengthAdjust="spacingAndGlyphs" stroke="#262626" stroke-width="0.7">5.0</text><line x1="399.38" y1="1996.6" x2="399.38" y2="2012" stroke="#333" stroke-width="2.0" stroke-linecap="butt"/><text x="388.36" y="2035.45" font-size="15.55" font-weight="normal" fill="#262626" textLength="22.43" lengthAdjust="spacingAndGlyphs" stroke="#262626" stroke-width="0.7">4.9</text><line x1="458.46" y1="1996.6" x2="458.46" y2="2012" stroke="#333" stroke-width="2.0" stroke-linecap="butt"/><text x="447.44" y="2035.45" font-size="15.55" font-weight="normal" fill="#262626" textLength="22.36" lengthAdjust="spacingAndGlyphs" stroke="#262626" stroke-width="0.7">4.8</text><line x1="517.54" y1="1996.6" x2="517.54" y2="2012" stroke="#333" stroke-width="2.0" stroke-linecap="butt"/><text x="506.52" y="2035.45" font-size="15.55" font-weight="normal" fill="#262626" textLength="22.48" lengthAdjust="spacingAndGlyphs" stroke="#262626" stroke-width="0.7">4.7</text><line x1="576.62" y1="1996.6" x2="576.62" y2="2012" stroke="#333" stroke-width="2.0" stroke-linecap="butt"/><text x="565.6" y="2035.45" font-size="15.55" font-weight="normal" fill="#262626" textLength="22.38" lengthAdjust="spacingAndGlyphs" stroke="#262626" stroke-width="0.7">4.6</text><line x1="635.7" y1="1996.6" x2="635.7" y2="2012" stroke="#333" stroke-width="2.0" stroke-linecap="butt"/><text x="624.68" y="2035.45" font-size="15.55" font-weight="normal" fill="#262626" textLength="22.35" lengthAdjust="spacingAndGlyphs" stroke="#262626" stroke-width="0.7">4.5</text><line x1="694.78" y1="1996.6" x2="694.78" y2="2012" stroke="#333" stroke-width="2.0" stroke-linecap="butt"/><text x="683.76" y="2035.45" font-size="15.55" font-weight="normal" fill="#262626" textLength="22.13" lengthAdjust="spacingAndGlyphs" stroke="#262626" stroke-width="0.7">4.4</text><line x1="753.86" y1="1996.6" x2="753.86" y2="2012" stroke="#333" stroke-width="2.0" stroke-linecap="butt"/><text x="742.84" y="2035.45" font-size="15.55" font-weight="normal" fill="#262626" textLength="22.38" lengthAdjust="spacingAndGlyphs" stroke="#262626" stroke-width="0.7">4.3</text><line x1="812.94" y1="1996.6" x2="812.94" y2="2012" stroke="#333" stroke-width="2.0" stroke-linecap="butt"/><text x="801.92" y="2035.45" font-size="15.55" font-weight="normal" fill="#262626" textLength="22.48" lengthAdjust="spacingAndGlyphs" stroke="#262626" stroke-width="0.7">4.2</text><line x1="872.02" y1="1996.6" x2="872.02" y2="2012" stroke="#333" stroke-width="2.0" stroke-linecap="butt"/><text x="861" y="2035.45" font-size="15.55" font-weight="normal" fill="#262626" textLength="22.47" lengthAdjust="spacingAndGlyphs" stroke="#262626" stroke-width="0.7">4.1</text><line x1="931.1" y1="1996.6" x2="931.1" y2="2012" stroke="#333" stroke-width="2.0" stroke-linecap="butt"/><text x="920.08" y="2035.45" font-size="15.55" font-weight="normal" fill="#262626" textLength="22.3" lengthAdjust="spacingAndGlyphs" stroke="#262626" stroke-width="0.7">4.0</text><line x1="990.18" y1="1996.6" x2="990.18" y2="2012" stroke="#333" stroke-width="2.0" stroke-linecap="butt"/><text x="978.91" y="2035.45" font-size="15.55" font-weight="normal" fill="#262626" textLength="22.69" lengthAdjust="spacingAndGlyphs" stroke="#262626" stroke-width="0.7">3.9</text><line x1="1049.26" y1="1996.6" x2="1049.26" y2="2012" stroke="#333" stroke-width="2.0" stroke-linecap="butt"/><text x="1037.99" y="2035.45" font-size="15.55" font-weight="normal" fill="#262626" textLength="22.62" lengthAdjust="spacingAndGlyphs" stroke="#262626" stroke-width="0.7">3.8</text><text x="440.52" y="2054" font-size="18.02" font-weight="bold" fill="#111" textLength="212.75" lengthAdjust="spacingAndGlyphs">Chemical shift (ppm)</text><text x="211.56" y="1446" font-size="27.76" font-weight="normal" fill="#111" textLength="57.71" lengthAdjust="spacingAndGlyphs" stroke="#111" stroke-width="1.2">TAG</text><text x="239.47" y="1694.5" font-size="27.76" font-weight="normal" fill="#111" textLength="119.02" lengthAdjust="spacingAndGlyphs" stroke="#111" stroke-width="1.2">1,2-DAG</text><text x="333.83" y="1743.6" font-size="27.18" font-weight="normal" fill="#111" textLength="99.42" lengthAdjust="spacingAndGlyphs" stroke="#111" stroke-width="1.2">2-MAG</text><text x="904.47" y="1679" font-size="26.89" font-weight="normal" fill="#111" textLength="119.02" lengthAdjust="spacingAndGlyphs" stroke="#111" stroke-width="1.2">1,3-DAG</text><text x="966.51" y="1747.2" font-size="27.33" font-weight="normal" fill="#111" textLength="99.76" lengthAdjust="spacingAndGlyphs" stroke="#111" stroke-width="1.2">1-MAG</text><text x="1005.71" y="1435.99" font-size="31.3" font-weight="bold" fill="#111" textLength="9.92" lengthAdjust="spacingAndGlyphs" stroke="#111" stroke-width="0.8">(</text><text x="1038.97" y="1435.99" font-size="31.3" font-weight="bold" fill="#111" textLength="10.75" lengthAdjust="spacingAndGlyphs" stroke="#111" stroke-width="0.8">)</text><text x="1017.34" y="1435.9" font-size="30.23" font-weight="bold" fill="#111" textLength="20.43" lengthAdjust="spacingAndGlyphs" stroke="#111" stroke-width="1.0">C</text><path d="M238.4 1454 L195 1512 M197.2 1494 L195 1512 L212.1 1504.1" fill="none" stroke="#111" stroke-width="2.4" stroke-linecap="butt" stroke-linejoin="miter"/><path d="M290.3 1709 L290.3 1823.5 M281.7 1807.8 L290.3 1823.5 L300.1 1807.8" fill="none" stroke="#111" stroke-width="2.4" stroke-linecap="butt" stroke-linejoin="miter"/><path d="M382.6 1755.8 L382.6 1833.9 M373.5 1819 L382.6 1833.9 L391.7 1819" fill="none" stroke="#111" stroke-width="2.4" stroke-linecap="butt" stroke-linejoin="miter"/><path d="M964.7 1695.8 L892.3 1818.6 M894 1800 L892.3 1818.6 L909.5 1810.7" fill="none" stroke="#111" stroke-width="2.4" stroke-linecap="butt" stroke-linejoin="miter"/><path d="M1017.2 1763.9 L974.1 1827.3 M975.5 1811.7 L974.1 1827.3 L990.7 1818.6" fill="none" stroke="#111" stroke-width="2.4" stroke-linecap="butt" stroke-linejoin="miter"/><line x1="866.3" y1="1484.6" x2="899.4" y2="1484.6" stroke="#222" stroke-width="3.0" stroke-linecap="butt"/><line x1="866.3" y1="1524.8" x2="899.4" y2="1524.8" stroke="#c8b2e8" stroke-width="2.4" stroke-linecap="butt"/><line x1="866.3" y1="1566.1" x2="899.4" y2="1566.1" stroke="#f0d690" stroke-width="2.4" stroke-linecap="butt"/><text x="921.57" y="1494.2" font-size="25.58" font-weight="normal" fill="#111" textLength="170.06" lengthAdjust="spacingAndGlyphs" stroke="#111" stroke-width="0.8">Before digestion</text><text x="921.57" y="1534.9" font-size="25.44" font-weight="normal" fill="#111" textLength="206.87" lengthAdjust="spacingAndGlyphs" stroke="#111" stroke-width="0.8">Digestion by 60 min</text><text x="921.57" y="1575.7" font-size="25.58" font-weight="normal" fill="#111" textLength="219.97" lengthAdjust="spacingAndGlyphs" stroke="#111" stroke-width="0.8">Digestion by 120 min</text></svg></body></html>
